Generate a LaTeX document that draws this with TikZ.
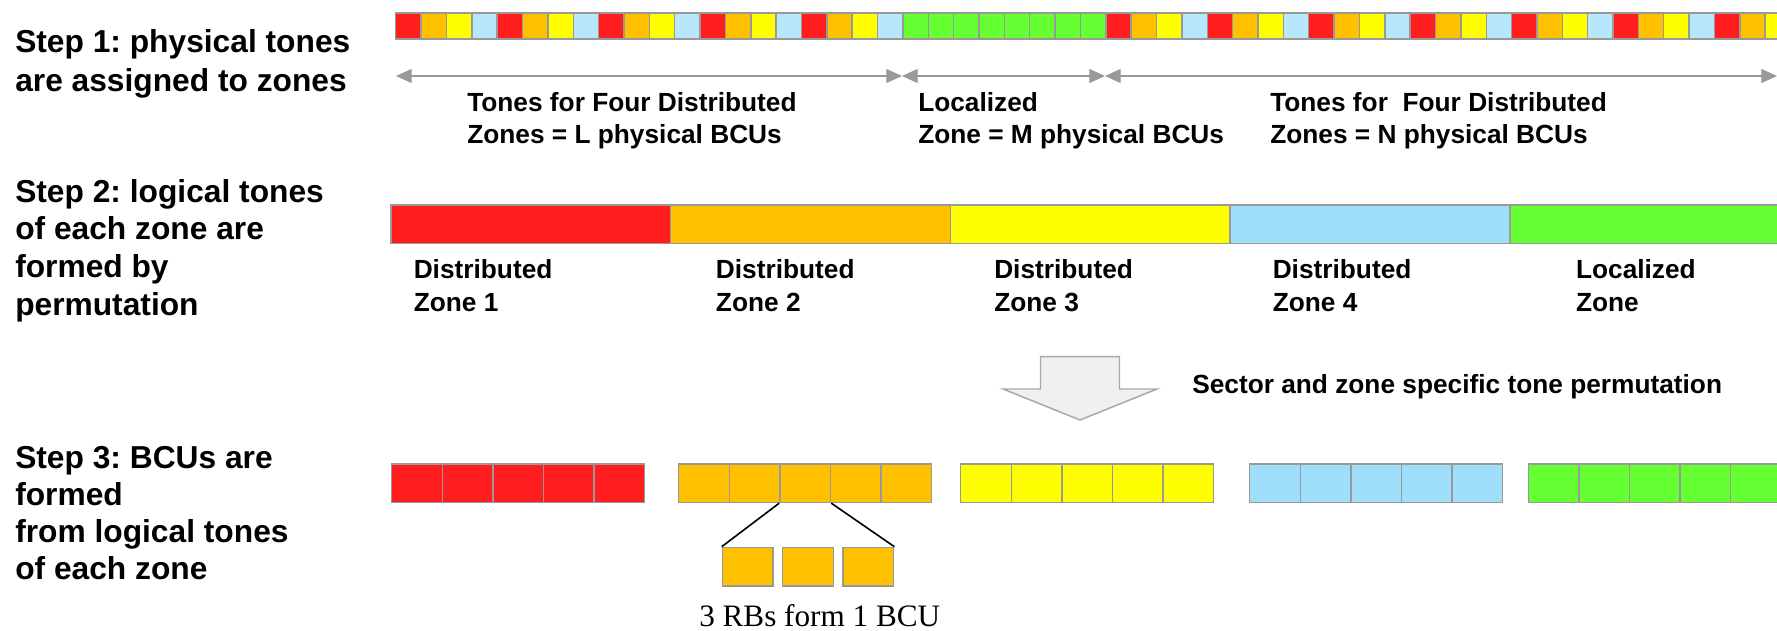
\documentclass[tikz,border=0pt]{standalone}
\usepackage{fontspec}
\setmainfont{Liberation Sans}
\newfontfamily\rbserif{Liberation Serif}
\usepackage{tikz}
\usetikzlibrary{arrows.meta}
\frenchspacing
\definecolor{tc0}{HTML}{FF1D1D}
\definecolor{tc1}{HTML}{FFC000}
\definecolor{tc2}{HTML}{FFFF00}
\definecolor{tc3}{HTML}{B8E7FB}
\definecolor{tc4}{HTML}{66FF33}
\definecolor{zc3}{HTML}{9FDFFC}
\definecolor{edgegray}{HTML}{999999}
\definecolor{blockfill}{HTML}{F0F0F0}
\tikzset{
    tone/.style={
        draw=edgegray, line width=1.1pt,
        anchor=north west, inner sep=0pt,
        minimum width=19.02pt, minimum height=19.5pt
    },
    zonebar/.style={
        draw=edgegray, line width=1.1pt,
        anchor=north west, inner sep=0pt,
        minimum width=209.8pt, minimum height=28.8pt
    },
    bcu/.style={
        draw=edgegray, line width=1.1pt,
        anchor=north west, inner sep=0pt,
        minimum width=37.95pt, minimum height=28.8pt
    },
    span/.style={draw=edgegray, line width=1pt,
        {Triangle[length=11.8pt,width=10.5pt]}-{Triangle[length=11.8pt,width=10.5pt]}},
    link/.style={draw, line width=1.2pt},
    steptext/.style={anchor=base west, inner sep=0pt,
        font={\fontsize{23.8pt}{28pt}\selectfont\bfseries}},
    zonetext/.style={anchor=base west, inner sep=0pt,
        font={\fontsize{19.7pt}{24pt}\selectfont\bfseries}},
}

\begin{document}
\begin{tikzpicture}[x=0.75pt, y=-0.75pt]

\useasboundingbox (0,0) rectangle (1777,631);
\clip (0,0) rectangle (1777,631);

\foreach \t [count=\i from 0] in {Step 1: physical tones, are assigned to zones}
  \node [steptext] (st1-\i) at (15, 53+39*\i) {\t};

\foreach \t [count=\i from 0] in {Step 2: logical tones, of each zone are, formed by, permutation}
  \node [steptext] (st2-\i) at (15, 202+37.8*\i) {\t};

\foreach \t [count=\i from 0] in {Step 3: BCUs are, formed, from logical tones, of each zone}
  \node [steptext] (st3-\i) at (15, 468+37.3*\i) {\t};

\foreach \i in {0,...,54}{
  \pgfmathtruncatemacro\k{\i<20 ? mod(\i,4) : (\i<28 ? 4 : mod(\i-28,4))}
  \node [tone, fill=tc\k] (ph-\i) at (395+25.36*\i, 12.3) {};
}

\coordinate (sp-0) at (396,76);
\coordinate (sp-1) at (902,76);
\coordinate (sp-2) at (1105,76);
\coordinate (sp-3) at (1777,76);
\foreach \i [count=\j] in {0,1,2}
  \draw [span] (sp-\i) -- (sp-\j);

\foreach \lx/\la/\lb [count=\i] in {467/Tones for Four Distributed/Zones = L physical BCUs,
    918/Localized/Zone = M physical BCUs,
    1270/Tones for\ \ Four Distributed/Zones = N physical BCUs}{
  \node [zonetext] (tl-\i) at (\lx, 111.7) {\la};
  \node [zonetext] (bl-\i) at (\lx, 143.5) {\lb};
}

\foreach \c [count=\z from 0] in {tc0, tc1, tc2, zc3, tc4}
  \node [zonebar, fill=\c] (zone-\z) at (390.3+279.7*\z, 204.3) {};

\foreach \lx/\la/\lb [count=\z] in {413.5/Distributed/Zone 1, 715.7/Distributed/Zone 2,
    994/Distributed/Zone 3, 1272.5/Distributed/Zone 4, 1575.8/Localized/Zone}{
  \node [zonetext] (za-\z) at (\lx, 278.3) {\la};
  \node [zonetext] (zb-\z) at (\lx, 311) {\lb};
}

\draw [draw=edgegray!85, fill=blockfill, line width=1.1pt]
  (1040.5,356.7) -- (1119.5,356.7) -- (1119.5,389) -- (1157,389)
  -- (1080,420) -- (1003,389) -- (1040.5,389) -- cycle;
\node [zonetext] (perm) at (1192, 393) {Sector and zone specific tone permutation};

\foreach \gx/\c [count=\g] in {391/tc0, 678/tc1, 960/tc2, 1249/zc3, 1527.5/tc4}
  \foreach \j in {1,...,5}
    \node [bcu, fill=\c] (b\g-\j) at (\gx+50.6*\j-50.6, 463.3) {};

\foreach \sx [count=\r] in {721.7, 781.9, 842.3}
  \node [bcu, fill=tc1] (rb-\r) at (\sx, 546.7) {};

\draw [link] (b2-3.south west) -- (rb-1.north west);
\draw [link] (b2-3.south east) -- (rb-3.north east);

\node [anchor=base west, inner sep=0pt, font={\rbserif\fontsize{23.4pt}{28pt}\selectfont}]
  (rbnote) at (699, 626) {3 RBs form 1 BCU};

\end{tikzpicture}
\end{document}
